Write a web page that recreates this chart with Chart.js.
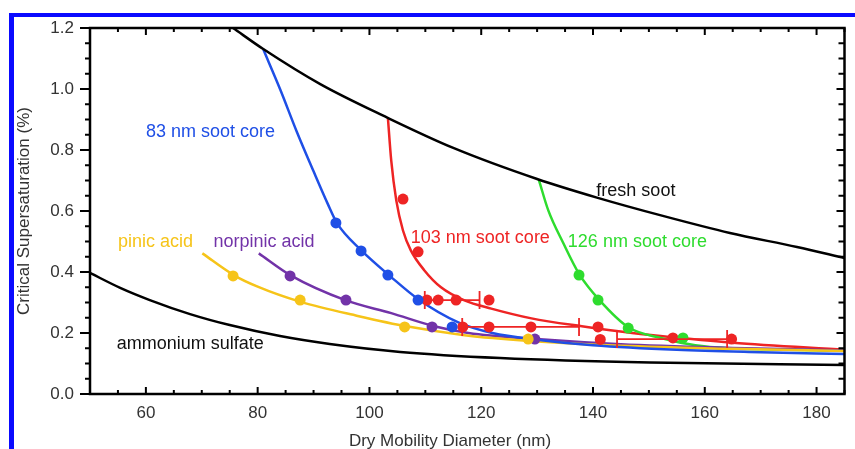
<!DOCTYPE html>
<html>
<head>
<meta charset="utf-8">
<script src="https://cdn.jsdelivr.net/npm/chart.js@4.4.1/dist/chart.umd.min.js"></script>
<style>
  html, body { margin: 0; padding: 0; background: #fff; }
  #wrap { width: 855px; height: 449px; }
</style>
</head>
<body>
<div id="wrap"><canvas id="ccn-chart" width="855" height="449"></canvas></div>
<script>
// Critical supersaturation vs dry mobility diameter - coated soot

// fitted curves
const freshSootX = [75.6, 81, 91.2, 103.1, 115, 130, 140.7, 152.5, 164.5, 176.5, 185];
const freshSootY = [1.2, 1.131, 1.016, 0.907, 0.807, 0.705, 0.644, 0.584, 0.528, 0.482, 0.446];

const ammSulfX = [50, 55.4, 60.7, 67.9, 75, 84, 92.9, 105.5, 123.4, 150.2, 185];
const ammSulfY = [0.397, 0.348, 0.308, 0.262, 0.226, 0.19, 0.164, 0.138, 0.118, 0.103, 0.095];

const core83X = [81, 84, 87, 90, 92.5, 94.2, 98.6, 103.8, 108.8, 115.9, 122, 130, 140, 155, 170, 185];
const core83Y = [1.13, 1.0, 0.86, 0.73, 0.625, 0.56, 0.47, 0.385, 0.31, 0.235, 0.2, 0.178, 0.16, 0.145, 0.137, 0.131];

const core103X = [103.3, 103.9, 104.8, 106, 107.4, 109.8, 112.8, 117, 121.8, 129, 138, 147, 156, 165, 185];
const core103Y = [0.906, 0.765, 0.635, 0.536, 0.471, 0.406, 0.35, 0.307, 0.28, 0.248, 0.222, 0.2, 0.183, 0.168, 0.145];

const core126X = [130.3, 132, 134.7, 137.5, 141.2, 146.4, 152.3, 158.3, 164.4, 175, 185];
const core126Y = [0.703, 0.602, 0.494, 0.394, 0.307, 0.218, 0.183, 0.16, 0.15, 0.145, 0.142];

const pinicX = [70.1, 75.7, 80, 87.7, 97.9, 106.9, 117, 128.7, 145, 165, 185];
const pinicY = [0.461, 0.39, 0.352, 0.302, 0.256, 0.221, 0.193, 0.174, 0.158, 0.148, 0.141];

const norpinicX = [80.2, 85.9, 95.8, 103.9, 111.6, 117.7, 129.9, 145, 165, 185];
const norpinicY = [0.461, 0.389, 0.307, 0.265, 0.222, 0.2, 0.18, 0.163, 0.151, 0.143];

// measured points
const blueDotsX = [94.0, 98.5, 103.3, 108.7, 114.8];
const blueDotsY = [0.561, 0.469, 0.39, 0.308, 0.22];

const redDotsX = [106.0, 108.7, 110.3, 112.3, 115.5, 121.4, 116.7, 121.4, 128.9, 140.9, 141.3, 154.3, 164.8];
const redDotsY = [0.639, 0.466, 0.308, 0.308, 0.308, 0.308, 0.22, 0.22, 0.22, 0.22, 0.179, 0.184, 0.18];

const greenDotsX = [137.5, 140.9, 146.3, 156.1];
const greenDotsY = [0.39, 0.308, 0.216, 0.184];

const yellowDotsX = [75.6, 87.6, 106.3, 128.4];
const yellowDotsY = [0.387, 0.308, 0.22, 0.18];

const purpleDotsX = [85.8, 95.8, 111.2, 129.6];
const purpleDotsY = [0.387, 0.308, 0.22, 0.18];

// horizontal error bars on the 103 nm series
const errBarY = [0.308, 0.22, 0.18];
const errBarLo = [109.9, 116.6, 144.3];
const errBarHi = [119.7, 137.5, 164.0];

const BLUE = '#1f4fe6';
const RED = '#ee2424';
const GREEN = '#2edc2e';
const YELLOW = '#f6c419';
const PURPLE = '#7233a8';
const FONT = '"Liberation Sans", Arial, Helvetica, sans-serif';

const pts = (xs, ys) => xs.map((x, i) => ({ x: x, y: ys[i] }));

function curve(xs, ys, color) {
  return {
    data: pts(xs, ys),
    showLine: true,
    borderColor: color,
    borderWidth: 2.5,
    pointRadius: 0,
    cubicInterpolationMode: 'monotone',
    fill: false,
    order: 2
  };
}

function dots(xs, ys, color) {
  return {
    data: pts(xs, ys),
    showLine: false,
    pointRadius: 5.5,
    pointBackgroundColor: color,
    pointBorderWidth: 0,
    order: 0
  };
}

const isMajorY = v => Math.abs(v * 5 - Math.round(v * 5)) < 1e-6;
const isMajorX = v => Math.abs(v % 20) < 1e-6;

// annotation texts, placed in data units
const notes = [
  { text: '83 nm soot core', x: 60.0, y: 0.841, color: BLUE },
  { text: '103 nm soot core', x: 107.4, y: 0.494, color: RED },
  { text: '126 nm soot core', x: 135.5, y: 0.481, color: GREEN },
  { text: 'fresh soot', x: 140.6, y: 0.648, color: '#111' },
  { text: 'pinic acid', x: 55.0, y: 0.481, color: YELLOW },
  { text: 'norpinic acid', x: 72.1, y: 0.481, color: PURPLE },
  { text: 'ammonium sulfate', x: 54.8, y: 0.147, color: '#111' }
];

const framePlugin = {
  id: 'frame',
  beforeDraw(chart) {
    const { ctx } = chart;
    ctx.save();
    ctx.fillStyle = '#fff';
    ctx.fillRect(0, 0, chart.width, chart.height);
    // blue picture frame
    ctx.fillStyle = '#0a0aff';
    ctx.fillRect(9, 13, chart.width - 9, 4);
    ctx.fillRect(9, 13, 5, chart.height - 13);
    ctx.restore();
  },
  afterDatasetsDraw(chart) {
    const { ctx, scales: { x, y } } = chart;
    ctx.save();
    // error bars
    ctx.strokeStyle = RED;
    ctx.lineWidth = 1.8;
    errBarY.forEach((v, i) => {
      const py = y.getPixelForValue(v);
      const p0 = x.getPixelForValue(errBarLo[i]);
      const p1 = x.getPixelForValue(errBarHi[i]);
      ctx.beginPath();
      ctx.moveTo(p0, py); ctx.lineTo(p1, py);
      ctx.moveTo(p0, py - 9); ctx.lineTo(p0, py + 9);
      ctx.moveTo(p1, py - 9); ctx.lineTo(p1, py + 9);
      ctx.stroke();
    });
    // labels
    ctx.font = '18px ' + FONT;
    ctx.textBaseline = 'alphabetic';
    ctx.textAlign = 'left';
    notes.forEach(n => {
      ctx.fillStyle = n.color;
      ctx.fillText(n.text, x.getPixelForValue(n.x), y.getPixelForValue(n.y));
    });
    ctx.restore();
  },
  afterDraw(chart) {
    const { ctx, chartArea: a, scales: { x, y } } = chart;
    ctx.save();
    ctx.strokeStyle = '#000';
    ctx.lineWidth = 2;
    ctx.beginPath();
    x.ticks.forEach(t => {
      const px = x.getPixelForValue(t.value);
      const len = isMajorX(t.value) ? 7 : 4;
      ctx.moveTo(px, a.bottom); ctx.lineTo(px, a.bottom - len);
      ctx.moveTo(px, a.top); ctx.lineTo(px, a.top + len);
    });
    y.ticks.forEach(t => {
      const py = y.getPixelForValue(t.value);
      const major = isMajorY(t.value);
      ctx.moveTo(a.left - (major ? 10 : 5), py); ctx.lineTo(a.left, py);
      ctx.moveTo(a.right, py); ctx.lineTo(a.right - (major ? 8 : 6), py);
    });
    ctx.stroke();
    ctx.lineWidth = 2.5;
    ctx.strokeRect(a.left, a.top, a.right - a.left, a.bottom - a.top);

    // x axis title sits a little left of the plot centre in the original
    ctx.fillStyle = '#333';
    ctx.font = '17px ' + FONT;
    ctx.textAlign = 'center';
    ctx.textBaseline = 'alphabetic';
    ctx.fillText('Dry Mobility Diameter (nm)', 450, 446);
    ctx.restore();
  }
};

new Chart(document.getElementById('ccn-chart'), {
  type: 'scatter',
  data: {
    datasets: [
      dots(blueDotsX, blueDotsY, BLUE),
      dots(yellowDotsX, yellowDotsY, YELLOW),
      dots(purpleDotsX, purpleDotsY, PURPLE),
      dots(greenDotsX, greenDotsY, GREEN),
      dots(redDotsX, redDotsY, RED),
      curve(freshSootX, freshSootY, '#000'),
      curve(ammSulfX, ammSulfY, '#000'),
      curve(core83X, core83Y, BLUE),
      curve(pinicX, pinicY, YELLOW),
      curve(norpinicX, norpinicY, PURPLE),
      curve(core126X, core126Y, GREEN),
      curve(core103X, core103Y, RED)
    ]
  },
  options: {
    responsive: false,
    animation: false,
    devicePixelRatio: 1,
    layout: { padding: { left: 0, right: 10.5, top: 28, bottom: 0 } },
    plugins: { legend: { display: false }, tooltip: { enabled: false } },
    scales: {
      x: {
        type: 'linear',
        min: 50,
        max: 185,
        grid: { display: false, drawTicks: false },
        border: { display: false },
        afterFit: s => { s.height = 55; },
        ticks: {
          stepSize: 5,
          maxTicksLimit: 100,
          autoSkip: false,
          maxRotation: 0,
          padding: 9,
          color: '#333',
          font: { family: FONT, size: 17 },
          callback: v => (isMajorX(v) ? String(v) : '')
        },
        title: { display: false }
      },
      y: {
        min: 0,
        max: 1.2,
        grid: { display: false, drawTicks: false },
        border: { display: false },
        afterFit: s => { s.width = 90; },
        ticks: {
          stepSize: 0.05,
          maxTicksLimit: 100,
          autoSkip: false,
          padding: 16,
          color: '#333',
          font: { family: FONT, size: 17 },
          callback: v => (isMajorY(v) ? v.toFixed(1) : '')
        },
        title: {
          display: true,
          text: 'Critical Supersaturation (%)',
          color: '#333',
          font: { family: FONT, size: 17 },
          padding: { top: 14, bottom: 0 }
        }
      }
    }
  },
  plugins: [framePlugin]
});
</script>
</body>
</html>
